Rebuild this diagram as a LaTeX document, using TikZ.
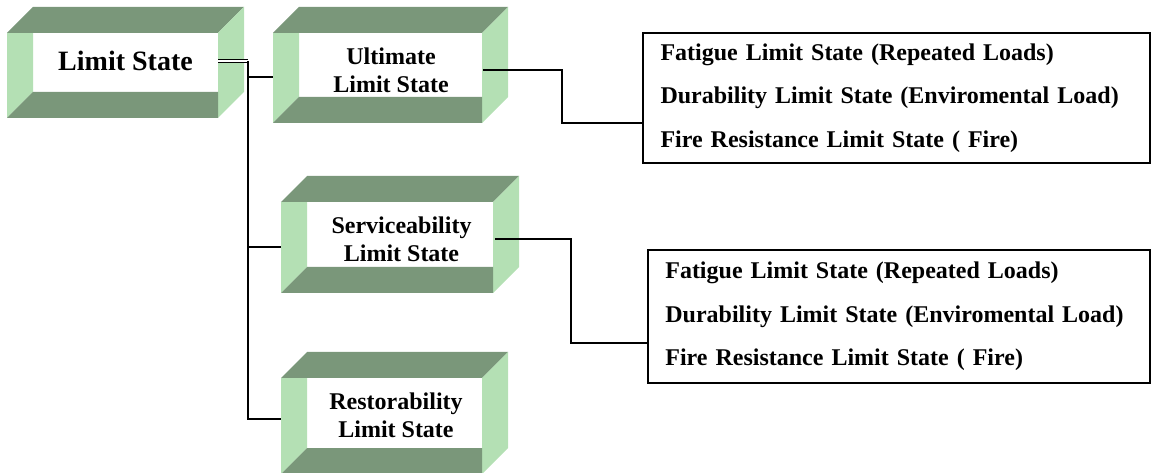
\documentclass[tikz,border=0pt]{standalone}
\usepackage{fontspec}
\setmainfont{Liberation Serif}

\definecolor{bandlight}{RGB}{180,224,180}
\definecolor{banddark}{RGB}{122,151,122}

\tikzset{
  face/.style={inner sep=0pt, align=center, font=\bfseries\fontsize{18}{21}\selectfont},
  listbox/.style={draw, line width=1.1pt, inner xsep=13pt, inner ysep=0pt, align=left, font=\bfseries\fontsize{18}{32.5}\selectfont},
  link/.style={line width=1pt}
}

\begin{document}
\begin{tikzpicture}[x=0.75pt, y=-0.75pt]
    \useasboundingbox (0,0) rectangle (1152,473);

    % bevelled boxes
    \foreach \l/\t/\r/\b in {7/33/218/118, 273/33/482/123, 281/202/493/293, 281/378/482/474} {
        \fill[white] (\l+26,\t) rectangle (\r,\b-26);
        \fill[bandlight] (\l,\t) -- (\l+26,\t) -- (\l+26,\b-26) -- (\l,\b) -- cycle;
        \fill[banddark] (\l,\t) -- (\l+26,\t-26) -- (\r+26,\t-26) -- (\r,\t) -- cycle;
        \fill[bandlight] (\r,\t) -- (\r+26,\t-26) -- (\r+26,\b-26) -- (\r,\b) -- cycle;
        \fill[banddark] (\l,\b) -- (\l+26,\b-26) -- (\r,\b-26) -- (\r,\b) -- cycle;
    }

    \node[face, minimum width=138.75pt, minimum height=44.25pt, font=\bfseries\fontsize{21}{24}\selectfont] (ls) at (125.5,61) {Limit State};
    \node[face, minimum width=137.25pt, minimum height=48pt] (uls) at (391,70) {Ultimate\\Limit State};
    \node[face, minimum width=139.5pt, minimum height=48.75pt] (sls) at (401.5,239) {Serviceability\\Limit State};
    \node[face, minimum width=131.25pt, minimum height=52.5pt] (rls) at (396,415.5) {Restorability\\Limit State};

    % lists on the right
    \node[listbox, text width=354pt, minimum height=97.5pt] (ulsitems) at (896.5,98)
        {Fatigue Limit State (Repeated Loads)\\Durability Limit State (Enviromental Load)\\Fire Resistance Limit State ( Fire)};
    \node[listbox, text width=350.5pt, minimum height=99.75pt] (slsitems) at (899,316.5)
        {Fatigue Limit State (Repeated Loads)\\Durability Limit State (Enviromental Load)\\Fire Resistance Limit State ( Fire)};

    % connectors
    \coordinate (trunk) at (248,61);
    \coordinate (ulsin) at (273,77);
    \coordinate (slsin) at (281,247);
    \coordinate (rlsin) at (281,419);
    \draw[link, double, double distance=0.8pt] (ls.east) -- (ls.east -| trunk);
    \draw[link] (ls.east -| trunk) -- (trunk |- rlsin) -- (rlsin);
    \draw[link] (trunk |- ulsin) -- (ulsin);
    \draw[link] (trunk |- slsin) -- (slsin);

    \coordinate (ulsbend) at (562,123);
    \coordinate (slsbend) at (571,343);
    \draw[link] (uls.east) -| (ulsbend) -- (ulsbend -| ulsitems.west);
    \draw[link] (sls.east) -| (slsbend) -- (slsbend -| slsitems.west);
\end{tikzpicture}
\end{document}
